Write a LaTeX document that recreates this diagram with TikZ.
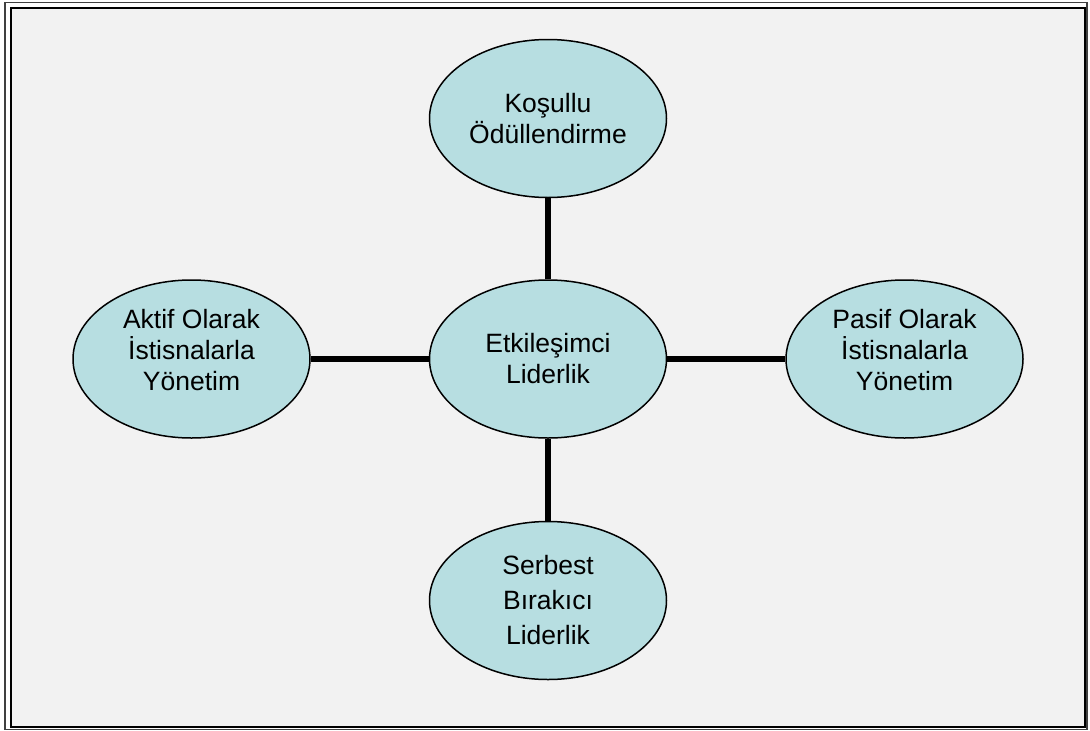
\documentclass[tikz,border=0pt]{standalone}
\usepackage{fontspec}
\setmainfont{Liberation Sans}
\usetikzlibrary{shapes.geometric,positioning}
\definecolor{ovalfill}{HTML}{B7DEE1}
\definecolor{pagegray}{HTML}{F2F2F2}

\begin{document}
\begin{tikzpicture}[x=1pt, y=-1pt,
    oval/.style={ellipse, draw=black, line width=1.5pt, fill=ovalfill, minimum width=237pt, minimum height=158pt, inner sep=0pt, align=center, font=\fontsize{26.5}{31}\selectfont},
    link/.style={line width=5.5pt}]

    \useasboundingbox (0,0) rectangle (1090,731);
    % frame
    \draw[line width=1.2pt, draw=black!75] (5,2.5) rectangle (1087,729.5);
    \draw[line width=2pt, fill=pagegray] (11,8) rectangle (1085,727);

    \node[oval]                     (ctr)     at (548,359) {Etkileşimci\\Liderlik};
    \node[oval, above = 81pt of ctr]  (kosul)   {Koşullu\\Ödüllendirme};
    \node[oval, below = 82pt of ctr]  (serbest) [font=\fontsize{26.5}{35}\selectfont] {Serbest\\Bırakıcı\\Liderlik};
    \node[oval, left = 118pt of ctr]  (aktif)   {Aktif Olarak\\İstisnalarla\\Yönetim\\[-13pt]\mbox{}};
    \node[oval, right = 118pt of ctr] (pasif)   {Pasif Olarak\\İstisnalarla\\Yönetim\\[-13pt]\mbox{}};

    \draw[link] (ctr) -- (kosul);
    \draw[link] (ctr) -- (serbest);
    \draw[link] (ctr) -- (aktif);
    \draw[link] (ctr) -- (pasif);

\end{tikzpicture}
\end{document}
